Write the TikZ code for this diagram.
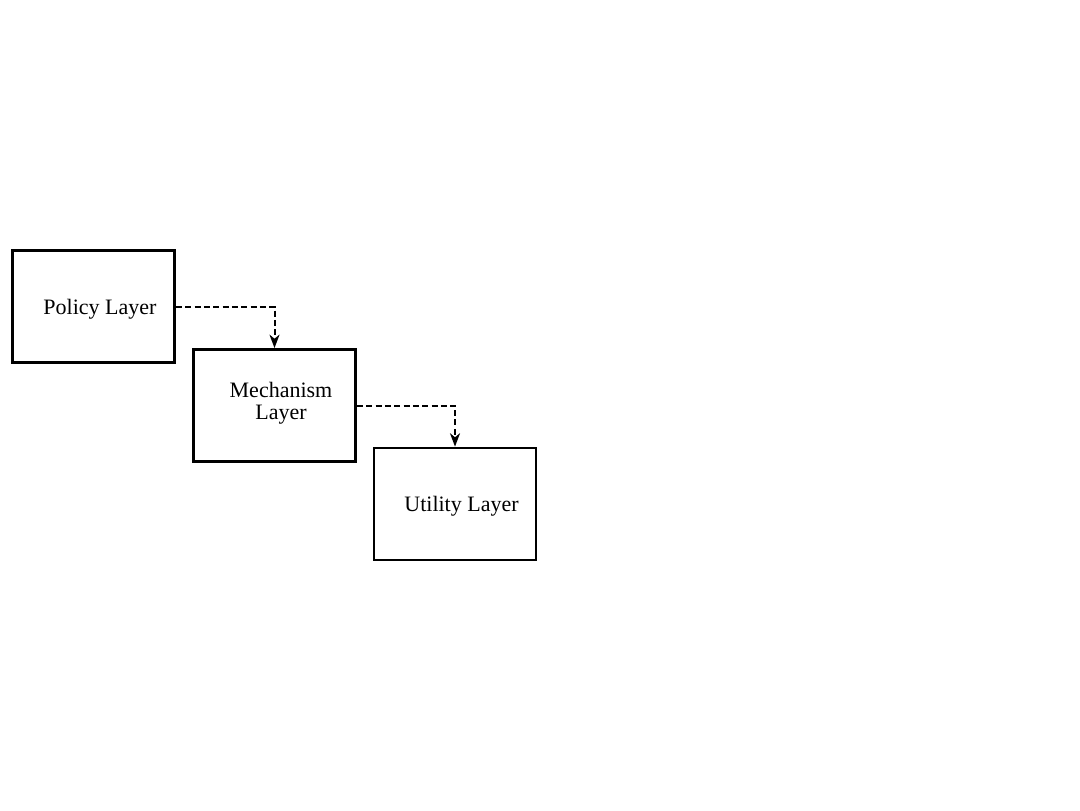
\documentclass[tikz,border=0pt]{standalone}
\usepackage{fontspec}
\setmainfont{Liberation Serif}
\usetikzlibrary{arrows.meta}
\begin{document}
\begin{tikzpicture}[x=0.75pt,y=-0.75pt,
  layerbox/.style={draw,line width=2.2pt,minimum width=162*0.75pt,minimum height=112*0.75pt,inner sep=0pt},
  layertext/.style={font=\fontsize{16.5}{16.5}\selectfont,align=center,inner sep=0pt},
  flow/.style={line width=1.5pt,dash pattern=on 4.5pt off 2.5pt,-{Stealth[length=10pt,width=7.5pt,inset=3pt]}}]
\useasboundingbox (0,0) rectangle (1080,810);
\node[layerbox] (p) at (93.5,306.5) {};
\node[layertext] (pt) at (100,309) {Policy Layer};
\node[layerbox] (m) at (274.5,405.5) {};
\node[layertext] (mt) at (281,403) {Mechanism\\Layer};
\node[layerbox,line width=2.1pt] (u) at (455,504) {};
\node[layertext] (ut) at (461.5,506) {Utility Layer};
\draw[flow] (p.east) -| (m.north);
\draw[flow] (m.east) -| (u.north);
\end{tikzpicture}
\end{document}
